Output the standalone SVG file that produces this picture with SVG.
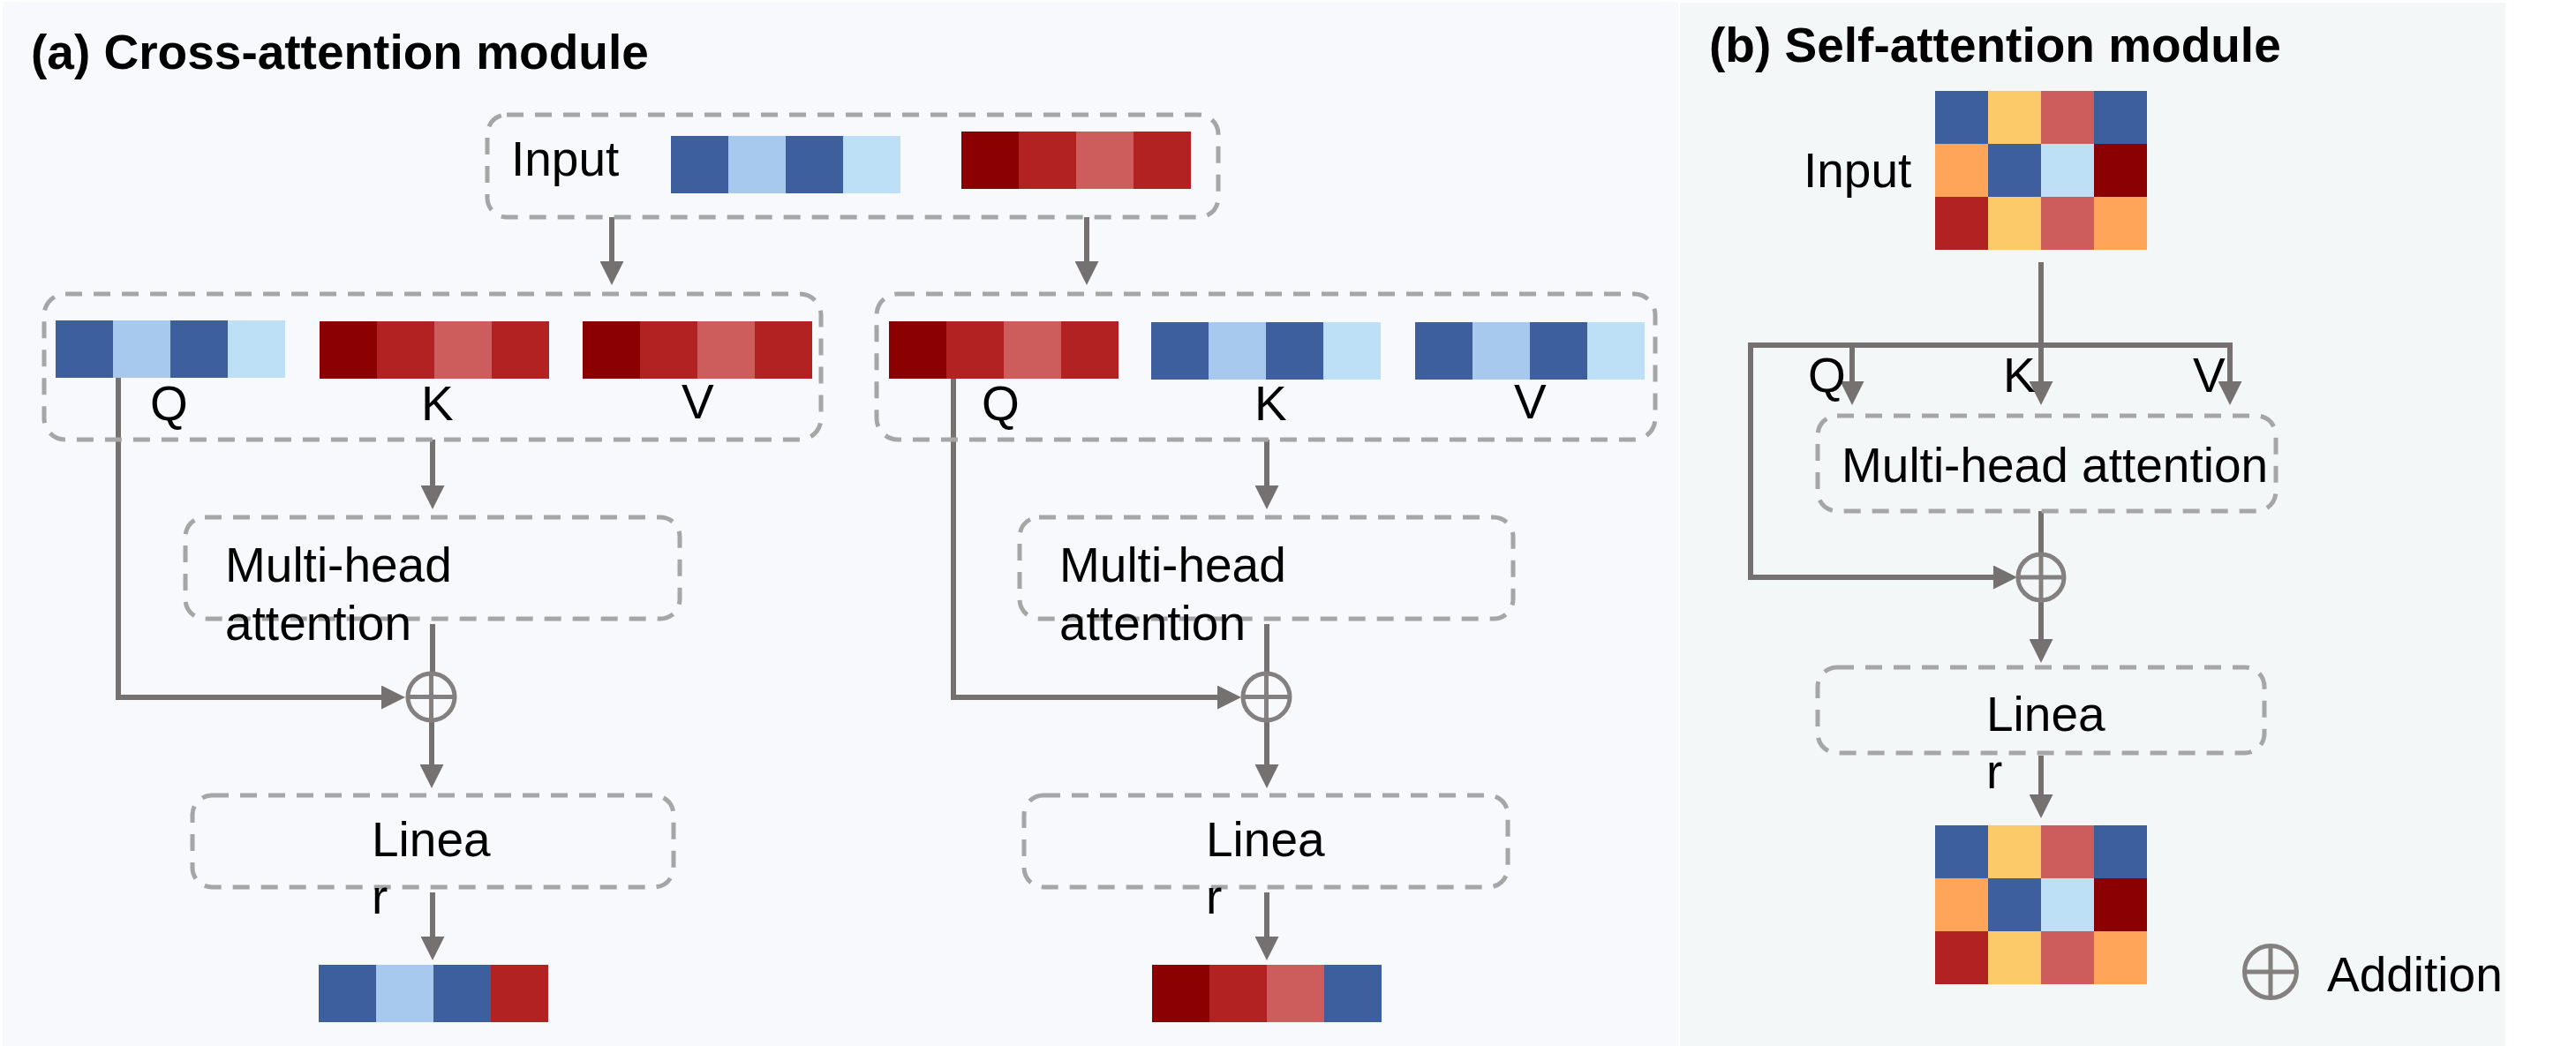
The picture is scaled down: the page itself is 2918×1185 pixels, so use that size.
<svg xmlns="http://www.w3.org/2000/svg" width="2918" height="1185" viewBox="0 0 2918 1185">
<defs>
<style>
.t{font-family:"Liberation Sans",Arial,sans-serif;font-size:55px;fill:#000}
.b{font-weight:bold}
.db{fill:none;stroke:#A6A6A6;stroke-width:5;stroke-dasharray:19 13}
.cn{fill:none;stroke:#767171;stroke-width:6}
.ar{marker-end:url(#ah)}
.pl{fill:none;stroke:#858080;stroke-width:5}
.c1{fill:#3E5F9E}.c2{fill:#A7C9EE}.c3{fill:#BEE0F7}
.r1{fill:#8B0000}.r2{fill:#B22222}.r3{fill:#CD5C5C}
.y{fill:#FDCA69}.o{fill:#FFA55A}
</style>
<marker id="ah" markerUnits="userSpaceOnUse" markerWidth="27" markerHeight="27" viewBox="0 0 27 27" refX="2" refY="13.5" orient="auto">
<path d="M0,0 L27,13.5 L0,27 z" fill="#767171"/>
</marker>
</defs>
<rect x="0" y="0" width="2918" height="1185" fill="#FFFFFF"/>
<rect id="panel-a" x="3" y="2" width="1898" height="1183" fill="#F7F9FC"/>
<rect id="panel-b" x="1903" y="3" width="935" height="1182" fill="#F3F7F8"/>

<text class="t b" x="35" y="78">(a) Cross-attention module</text>
<text class="t b" x="1936" y="70">(b) Self-attention module</text>

<g id="connectors">
<path class="cn ar" d="M693,246 V298"/>
<path class="cn ar" d="M1231,246 V298"/>
<path class="cn ar" d="M134,428 V790 H434"/>
<path class="cn ar" d="M490,498 V552"/>
<path class="cn" d="M490,707 V763"/>
<path class="cn ar" d="M489,815 V868"/>
<path class="cn ar" d="M490,1011 V1063"/>
<path class="cn ar" d="M1080,428 V790 H1381"/>
<path class="cn ar" d="M1435,498 V552"/>
<path class="cn" d="M1435,707 V763"/>
<path class="cn ar" d="M1435,815 V868"/>
<path class="cn ar" d="M1435,1011 V1063"/>
<path class="cn" d="M2312,297 V391"/>
<path class="cn ar" d="M2526,391 H1983 V654 H2260"/>
<path class="cn ar" d="M2098,388 V434"/>
<path class="cn ar" d="M2312,388 V434"/>
<path class="cn ar" d="M2526,388 V434"/>
<path class="cn" d="M2312,579 V628"/>
<path class="cn ar" d="M2312,680 V726"/>
<path class="cn ar" d="M2312,856 V902"/>
</g>

<g id="input-a">
<rect class="db" x="552" y="130" width="828" height="116" rx="22"/>
<text class="t" x="579" y="199">Input</text>
<rect class="c1" x="760" y="154" width="65" height="65"/>
<rect class="c2" x="825" y="154" width="65" height="65"/>
<rect class="c1" x="890" y="154" width="65" height="65"/>
<rect class="c3" x="955" y="154" width="65" height="65"/>
<rect class="r1" x="1089" y="149" width="65" height="65"/>
<rect class="r2" x="1154" y="149" width="65" height="65"/>
<rect class="r3" x="1219" y="149" width="65" height="65"/>
<rect class="r2" x="1284" y="149" width="65" height="65"/>
</g>

<g id="qkv-1">
<rect class="db" x="50" y="333" width="880" height="165" rx="24"/>
<rect class="c1" x="63" y="363" width="65" height="65"/>
<rect class="c2" x="128" y="363" width="65" height="65"/>
<rect class="c1" x="193" y="363" width="65" height="65"/>
<rect class="c3" x="258" y="363" width="65" height="65"/>
<rect class="r1" x="362" y="364" width="65" height="65"/>
<rect class="r2" x="427" y="364" width="65" height="65"/>
<rect class="r3" x="492" y="364" width="65" height="65"/>
<rect class="r2" x="557" y="364" width="65" height="65"/>
<rect class="r1" x="660" y="364" width="65" height="65"/>
<rect class="r2" x="725" y="364" width="65" height="65"/>
<rect class="r3" x="790" y="364" width="65" height="65"/>
<rect class="r2" x="855" y="364" width="65" height="65"/>
<text class="t" x="170" y="476">Q</text>
<text class="t" x="477" y="476">K</text>
<text class="t" x="772" y="474">V</text>
</g>

<g id="qkv-2">
<rect class="db" x="993" y="333" width="882" height="165" rx="24"/>
<rect class="r1" x="1007" y="364" width="65" height="65"/>
<rect class="r2" x="1072" y="364" width="65" height="65"/>
<rect class="r3" x="1137" y="364" width="65" height="65"/>
<rect class="r2" x="1202" y="364" width="65" height="65"/>
<rect class="c1" x="1304" y="365" width="65" height="65"/>
<rect class="c2" x="1369" y="365" width="65" height="65"/>
<rect class="c1" x="1434" y="365" width="65" height="65"/>
<rect class="c3" x="1499" y="365" width="65" height="65"/>
<rect class="c1" x="1603" y="365" width="65" height="65"/>
<rect class="c2" x="1668" y="365" width="65" height="65"/>
<rect class="c1" x="1733" y="365" width="65" height="65"/>
<rect class="c3" x="1798" y="365" width="65" height="65"/>
<text class="t" x="1112" y="476">Q</text>
<text class="t" x="1421" y="476">K</text>
<text class="t" x="1715" y="474">V</text>
</g>

<g id="mha-1">
<rect class="db" x="210" y="586" width="560" height="115" rx="22"/>
<text class="t" x="255" y="659">Multi-head</text>
<text class="t" x="255" y="725">attention</text>
</g>
<g id="mha-2">
<rect class="db" x="1155" y="586" width="559" height="115" rx="22"/>
<text class="t" x="1200" y="659">Multi-head</text>
<text class="t" x="1200" y="725">attention</text>
</g>

<g id="add-1">
<circle class="pl" cx="488.5" cy="789.5" r="26.5"/>
<path class="pl" d="M462,789.5 H515 M488.5,763 V816"/>
</g>
<g id="add-2">
<circle class="pl" cx="1434.5" cy="789.5" r="26.5"/>
<path class="pl" d="M1408,789.5 H1461 M1434.5,763 V816"/>
</g>

<g id="linear-1">
<rect class="db" x="218" y="901" width="545" height="104" rx="22"/>
<text class="t" x="421" y="970">Linea</text>
<text class="t" x="421" y="1035">r</text>
</g>
<g id="linear-2">
<rect class="db" x="1160" y="901" width="548" height="104" rx="22"/>
<text class="t" x="1366" y="970">Linea</text>
<text class="t" x="1366" y="1035">r</text>
</g>

<g id="output-1">
<rect class="c1" x="361" y="1093" width="65" height="65"/>
<rect class="c2" x="426" y="1093" width="65" height="65"/>
<rect class="c1" x="491" y="1093" width="65" height="65"/>
<rect class="r2" x="556" y="1093" width="65" height="65"/>
</g>
<g id="output-2">
<rect class="r1" x="1305" y="1093" width="65" height="65"/>
<rect class="r2" x="1370" y="1093" width="65" height="65"/>
<rect class="r3" x="1435" y="1093" width="65" height="65"/>
<rect class="c1" x="1500" y="1093" width="65" height="65"/>
</g>

<g id="input-b">
<text class="t" x="2043" y="212">Input</text>
<rect class="c1" x="2192" y="103" width="60" height="60"/>
<rect class="y" x="2252" y="103" width="60" height="60"/>
<rect class="r3" x="2312" y="103" width="60" height="60"/>
<rect class="c1" x="2372" y="103" width="60" height="60"/>
<rect class="o" x="2192" y="163" width="60" height="60"/>
<rect class="c1" x="2252" y="163" width="60" height="60"/>
<rect class="c3" x="2312" y="163" width="60" height="60"/>
<rect class="r1" x="2372" y="163" width="60" height="60"/>
<rect class="r2" x="2192" y="223" width="60" height="60"/>
<rect class="y" x="2252" y="223" width="60" height="60"/>
<rect class="r3" x="2312" y="223" width="60" height="60"/>
<rect class="o" x="2372" y="223" width="60" height="60"/>
</g>

<g id="qkv-labels-b">
<text class="t" x="2048" y="444">Q</text>
<text class="t" x="2269" y="444">K</text>
<text class="t" x="2484" y="444">V</text>
</g>

<g id="mha-b">
<rect class="db" x="2059" y="471" width="519" height="108" rx="22"/>
<text class="t" x="2086" y="546">Multi-head attention</text>
</g>

<g id="add-b">
<circle class="pl" cx="2312" cy="654" r="26"/>
<path class="pl" d="M2286,654 H2338 M2312,628 V680"/>
</g>

<g id="linear-b">
<rect class="db" x="2059" y="756" width="506" height="97" rx="22"/>
<text class="t" x="2250" y="828">Linea</text>
<text class="t" x="2250" y="893">r</text>
</g>

<g id="output-b">
<rect class="c1" x="2192" y="935" width="60" height="60"/>
<rect class="y" x="2252" y="935" width="60" height="60"/>
<rect class="r3" x="2312" y="935" width="60" height="60"/>
<rect class="c1" x="2372" y="935" width="60" height="60"/>
<rect class="o" x="2192" y="995" width="60" height="60"/>
<rect class="c1" x="2252" y="995" width="60" height="60"/>
<rect class="c3" x="2312" y="995" width="60" height="60"/>
<rect class="r1" x="2372" y="995" width="60" height="60"/>
<rect class="r2" x="2192" y="1055" width="60" height="60"/>
<rect class="y" x="2252" y="1055" width="60" height="60"/>
<rect class="r3" x="2312" y="1055" width="60" height="60"/>
<rect class="o" x="2372" y="1055" width="60" height="60"/>
</g>

<g id="legend">
<circle class="pl" cx="2572" cy="1101" r="29.5"/>
<path class="pl" d="M2542.5,1101 H2601.5 M2572,1071.5 V1130.5"/>
<text class="t" x="2636" y="1123">Addition</text>
</g>
</svg>
